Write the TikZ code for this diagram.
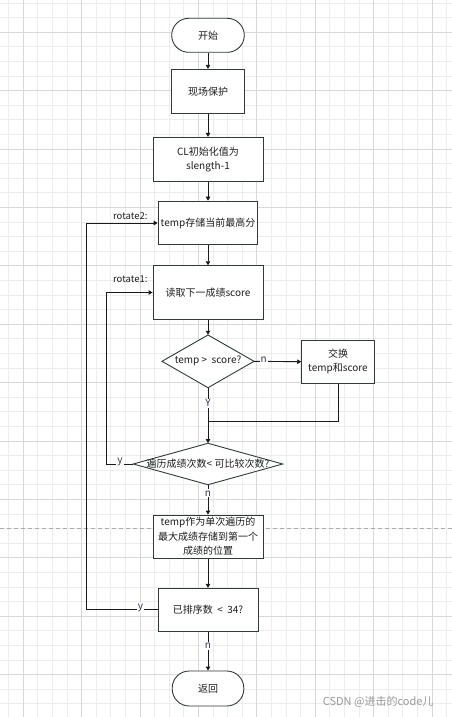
\documentclass[tikz,border=0pt]{standalone}
\usepackage{fontspec}
\setmainfont{Noto Sans CJK SC}
\usetikzlibrary{arrows.meta}
\definecolor{gridminor}{HTML}{ECECEC}
\definecolor{gridmajor}{HTML}{D8D8D8}
\definecolor{edgecol}{HTML}{1A1A1A}
\definecolor{bordercol}{HTML}{2F3B3B}
\definecolor{txtcol}{HTML}{1E1E1E}
\definecolor{lblcol}{HTML}{2A3550}
\definecolor{pagebreak}{HTML}{ABABAB}
\definecolor{wmcol}{HTML}{9A9A9A}
\begin{document}
\begin{tikzpicture}[x=1pt,y=-1pt,
  every node/.style={font=\fontsize{10}{14}\selectfont, text=txtcol},
  procbox/.style={draw=bordercol, fill=white, line width=0.9pt, align=center, inner sep=0pt},
  termbox/.style={procbox, rounded corners=17pt},
  decbox/.style={inner sep=0pt, align=center},
  flow/.style={draw=edgecol, line width=0.9pt, -{Triangle[length=4pt,width=4.5pt]}},
  plain/.style={draw=edgecol, line width=0.9pt},
  lbl/.style={fill=white, inner sep=1pt, text=lblcol, font=\fontsize{10}{12}\selectfont},
  note/.style={text=txtcol, font=\fontsize{9.5}{12}\selectfont}
]
\useasboundingbox (0,0) rectangle (452,717);
\fill[white] (0,0) rectangle (452,717);
% grid
\foreach \i in {0,...,30} \draw[gridminor, line width=0.9pt] ({8.7+14.6*\i},0) -- ({8.7+14.6*\i},717);
\foreach \i in {0,...,49} \draw[gridminor, line width=0.9pt] (0,{3.1+14.6*\i}) -- (452,{3.1+14.6*\i});
\foreach \i in {0,...,7} \draw[gridmajor, line width=0.9pt] ({23.3+58.4*\i},0) -- ({23.3+58.4*\i},717);
\foreach \i in {0,...,11} \draw[gridmajor, line width=0.9pt] (0,{32.3+58.4*\i}) -- (452,{32.3+58.4*\i});
% page break line
\draw[pagebreak, line width=0.9pt, dash pattern=on 4pt off 3pt] (0,528.3) -- (452,528.3);

% nodes
\node[termbox, minimum width=72.6pt, minimum height=34pt] (start) at (208,35.3) {开始};
\node[procbox, minimum width=72.6pt, minimum height=44pt] (protect) at (208,91.3) {现场保护};
\node[procbox, minimum width=110pt, minimum height=44.3pt] (cl) at (208,159.5) {CL初始化值为\\slength-1};
\node[procbox, minimum width=99.7pt, minimum height=43.7pt] (temp) at (208,223) {temp存储当前最高分};
\node[procbox, minimum width=110pt, minimum height=53.6pt] (read) at (208,292.5) {读取下一成绩score};
\filldraw[fill=white, draw=bordercol, line width=0.9pt] (208,335) -- (254,361.3) -- (208,387.7) -- (162,361.3) -- cycle;
\node[decbox, minimum width=92pt, minimum height=52.7pt] (d1) at (208,361.3) {temp > \ score?};
\node[procbox, minimum width=72.6pt, minimum height=43.3pt] (swap) at (338,361.7) {交换\\temp和score};
\filldraw[fill=white, draw=bordercol, line width=0.9pt] (208,443.3) -- (282.7,464) -- (208,484.7) -- (133.3,464) -- cycle;
\node[decbox, minimum width=149.4pt, minimum height=41.4pt] (d2) at (208,464) {遍历成绩次数< 可比较次数?};
\node[procbox, minimum width=110pt, minimum height=43.3pt, font=\fontsize{10}{14.5}\selectfont] (store) at (208,536.7) {temp作为单次遍历的\\最大成绩存储到第一个\\成绩的位置};
\node[procbox, minimum width=100pt, minimum height=42.7pt] (cnt) at (208,609.7) {已排序数 \ < \ 34?};
\node[termbox, minimum width=71.6pt, minimum height=35pt] (ret) at (208,688.5) {返回};

\node[note, anchor=east] (r2) at (151,216) {rotate2:};
\node[note, anchor=east] (r1) at (151,279) {rotate1:};

% connectors
\draw[flow] (start) -- (protect);
\draw[flow] (protect) -- (cl);
\draw[flow] (cl) -- (temp);
\draw[flow] (temp) -- (read);
\draw[flow] (read) -- (d1.north);
\draw[flow] (d1.east) -- node[lbl, pos=0.2, yshift=1.5pt] {n} (swap.west);
\coordinate (join) at (208,421);
\draw[plain] (swap.south) |- (join);
\draw[flow] (d1.south) -- node[lbl, pos=0.28] {Y} (d2.north);
\coordinate (loop1) at (106.7,464);
\draw[flow] (d2.west) -- node[lbl, pos=0.5, yshift=2pt] {y} (loop1) |- (read.west);
\draw[flow] (d2.south) -- node[lbl, pos=0.28] {n} (store);
\draw[flow] (store) -- (cnt);
\coordinate (loop2) at (86.7,609.7);
\draw[flow] (cnt.west) -- node[lbl, pos=0.24, yshift=2pt] {y} (loop2) |- (temp.west);
\draw[flow] (cnt) -- node[lbl, pos=0.37] {n} (ret);

% watermark
\node[anchor=east, text=wmcol, font=\fontsize{11}{13}\selectfont] (wm) at (437,702.3) {CSDN @进击的code儿};
\end{tikzpicture}
\end{document}
